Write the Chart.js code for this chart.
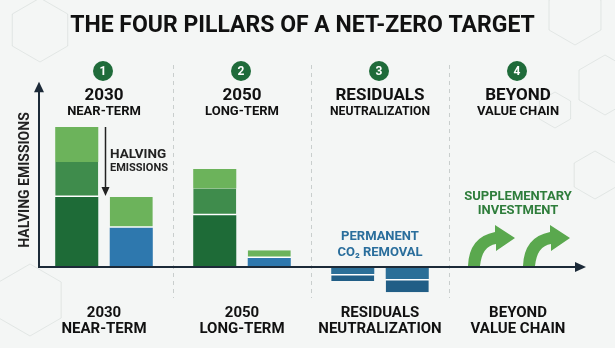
<!DOCTYPE html>
<html lang="en">
<head>
    <meta charset="UTF-8">
    <title>net-zero pillars</title>
    <style>
        html, body { margin: 0; padding: 0; background: #f4f6f5; }
        .chart-container { position: relative; width: 615px; height: 348px; }
    </style>
</head>
<body>
<script src="https://cdn.jsdelivr.net/npm/chart.js@4.4.0/dist/chart.umd.min.js"></script>

<div class="chart-container">
    <canvas id="pillars"></canvas>
</div>
<script>
    // tick labels along the bottom
    const categories = [['2030', 'NEAR-TERM'], ['2050', 'LONG-TERM'], ['RESIDUALS', 'NEUTRALIZATION'], ['BEYOND', 'VALUE CHAIN']]
    const headerTop = ['2030', '2050', 'RESIDUALS', 'BEYOND']
    const headerSub = ['NEAR-TERM', 'LONG-TERM', 'NEUTRALIZATION', 'VALUE CHAIN']
    const pillarNumbers = ['1', '2', '3', '4']

    // left bar of each pillar (stacked bottom -> top), residuals go below zero
    const leftBottom = [50, 37, -5, null]
    const leftMiddle = [25, 19, -5, null]
    const leftTop = [25, 14, null, null]
    // right bar of each pillar
    const rightBottom = [28, 6.5, -8.5, null]
    const rightTop = [22, 5.5, -9.5, null]

    const DARK = '#1e6b37', MID = '#3f8c4c', LIGHT = '#6cb35b', BLUE = '#2e78ae'
    const TEAL1 = '#2b6f98', TEAL2 = '#215e86'

    const sep = (c) => (c.raw < 0 ? {top: 1.5} : {bottom: 1.5})

    function hexagon(ctx, cx, cy, r) {
        ctx.beginPath()
        for (let k = 0; k < 6; k++) {
            const a = Math.PI / 3 * k - Math.PI / 2
            const px = cx + r * Math.cos(a), py = cy + r * Math.sin(a)
            if (k === 0) ctx.moveTo(px, py); else ctx.lineTo(px, py)
        }
        ctx.closePath()
        ctx.stroke()
    }

    function curvedArrow(ctx, bx, by) {
        ctx.beginPath()
        ctx.moveTo(bx, by)
        ctx.quadraticCurveTo(bx + 1, by - 29, bx + 27, by - 34)
        ctx.lineTo(bx + 27, by - 41)
        ctx.lineTo(bx + 47, by - 28)
        ctx.lineTo(bx + 28, by - 15)
        ctx.lineTo(bx + 28, by - 22)
        ctx.quadraticCurveTo(bx + 14, by - 20, bx + 12, by)
        ctx.closePath()
        ctx.fill()
    }

    const pillarDecor = {
        id: 'pillarDecor',
        beforeDraw(chart) {
            const {ctx, width, height, scales: {x}} = chart
            ctx.save()
            ctx.fillStyle = '#f4f6f5'
            ctx.fillRect(0, 0, width, height)
            ctx.strokeStyle = 'rgba(170, 185, 180, 0.25)'
            ctx.lineWidth = 1
            hexagon(ctx, 40, 30, 32)
            hexagon(ctx, 30, 300, 36)
            hexagon(ctx, 575, 15, 30)
            hexagon(ctx, 605, 85, 30)
            hexagon(ctx, 555, 110, 18)
            hexagon(ctx, 595, 175, 24)

            ctx.strokeStyle = '#c9cecd'
            ctx.setLineDash([4, 4])
            for (let i = 0; i < categories.length - 1; i++) {
                const sx = Math.round((x.getPixelForValue(i) + x.getPixelForValue(i + 1)) / 2) + 0.5
                ctx.beginPath()
                ctx.moveTo(sx, 65)
                ctx.lineTo(sx, 298)
                ctx.stroke()
            }
            ctx.restore()
        },
        afterDatasetsDraw(chart) {
            const {ctx, chartArea, scales: {x, y}} = chart
            const y0 = y.getPixelForValue(0)
            const ax = chartArea.left + 4
            ctx.save()

            // axes with arrow heads
            ctx.strokeStyle = ctx.fillStyle = '#1c2a38'
            ctx.lineWidth = 2
            ctx.beginPath()
            ctx.moveTo(ax, y0 + 1)
            ctx.lineTo(ax, chartArea.top + 8)
            ctx.moveTo(ax - 1, y0)
            ctx.lineTo(chartArea.right - 9, y0)
            ctx.stroke()
            ctx.beginPath()
            ctx.moveTo(ax, chartArea.top - 0.5)
            ctx.lineTo(ax - 5, chartArea.top + 10)
            ctx.lineTo(ax + 5, chartArea.top + 10)
            ctx.closePath()
            ctx.fill()
            ctx.beginPath()
            ctx.moveTo(chartArea.right - 1, y0)
            ctx.lineTo(chartArea.right - 12, y0 - 5)
            ctx.lineTo(chartArea.right - 12, y0 + 5)
            ctx.closePath()
            ctx.fill()

            // pillar headers
            ctx.textAlign = 'center'
            for (let i = 0; i < headerTop.length; i++) {
                const cx = x.getPixelForValue(i)
                ctx.fillStyle = '#1f6b3a'
                ctx.beginPath()
                ctx.arc(cx - 1, 71, 10, 0, Math.PI * 2)
                ctx.fill()
                ctx.fillStyle = '#fff'
                ctx.font = 'bold 12px Roboto'
                ctx.textBaseline = 'middle'
                ctx.fillText(pillarNumbers[i], cx - 1, 71.5)
                ctx.textBaseline = 'alphabetic'
                ctx.fillStyle = '#111'
                ctx.font = 'bold 17px Roboto'
                ctx.fillText(headerTop[i], cx, 100)
                ctx.font = 'bold 13px Roboto'
                ctx.fillText(headerSub[i], cx, 115, 100)
            }

            // y title
            ctx.save()
            ctx.translate(29, 180)
            ctx.rotate(-Math.PI / 2)
            ctx.fillStyle = '#222'
            ctx.font = 'bold 14px Roboto'
            ctx.fillText('HALVING EMISSIONS', 0, 0)
            ctx.restore()

            // halving arrow between the two 2030 bars
            const c0 = x.getPixelForValue(0)
            const hx = c0 + 1.5
            const yFrom = y.getPixelForValue(leftBottom[0] + leftMiddle[0] + leftTop[0])
            const yTo = y.getPixelForValue(rightBottom[0] + rightTop[0])
            ctx.strokeStyle = ctx.fillStyle = '#222'
            ctx.lineWidth = 1.5
            ctx.beginPath()
            ctx.moveTo(hx, yFrom)
            ctx.lineTo(hx, yTo - 8)
            ctx.stroke()
            ctx.beginPath()
            ctx.moveTo(hx, yTo - 1)
            ctx.lineTo(hx - 4, yTo - 10)
            ctx.lineTo(hx + 4, yTo - 10)
            ctx.closePath()
            ctx.fill()
            ctx.textAlign = 'left'
            ctx.font = 'bold 13.5px Roboto'
            ctx.fillText('HALVING', c0 + 6, 158)
            ctx.font = 'bold 11px Roboto'
            ctx.fillText('EMISSIONS', c0 + 6, 171)

            // residuals note
            const c2 = x.getPixelForValue(2)
            ctx.textAlign = 'center'
            ctx.fillStyle = '#2a6e9c'
            ctx.font = 'bold 13px Roboto'
            ctx.fillText('PERMANENT', c2, 240)
            ctx.fillText('CO\u2082 REMOVAL', c2, 255.5)

            // beyond value chain note + arrows
            const c3 = x.getPixelForValue(3)
            ctx.fillStyle = '#2e7d3b'
            ctx.fillText('SUPPLEMENTARY', c3, 200)
            ctx.fillText('INVESTMENT', c3, 214)
            ctx.fillStyle = '#5aa84e'
            curvedArrow(ctx, c3 - 50, y0 - 1)
            curvedArrow(ctx, c3 + 5, y0 - 1)

            ctx.restore()
        }
    }

    Chart.defaults.font.family = 'Roboto'

    const ctx = document.getElementById('pillars').getContext('2d')
    const pillarsChart = new Chart(ctx, {
        type: 'bar',
        data: {
            labels: categories,
            datasets: [
                {label: 'left bottom', data: leftBottom, stack: 'left', backgroundColor: [DARK, DARK, TEAL1, DARK], borderWidth: 0},
                {label: 'left middle', data: leftMiddle, stack: 'left', backgroundColor: [MID, MID, TEAL2, MID], borderColor: '#fff', borderWidth: sep, borderSkipped: false},
                {label: 'left top', data: leftTop, stack: 'left', backgroundColor: LIGHT, borderWidth: 0},
                {label: 'right bottom', data: rightBottom, stack: 'right', backgroundColor: [BLUE, BLUE, TEAL1, BLUE], borderWidth: 0},
                {label: 'right top', data: rightTop, stack: 'right', backgroundColor: [LIGHT, LIGHT, TEAL2, LIGHT], borderColor: '#fff', borderWidth: sep, borderSkipped: false}
            ]
        },
        options: {
            responsive: true,
            maintainAspectRatio: false,
            animation: false,
            layout: {padding: {left: 18, right: 28, top: 0, bottom: 0}},
            datasets: {bar: {categoryPercentage: 0.79, barPercentage: 0.79}},
            plugins: {
                legend: {display: false},
                tooltip: {enabled: false},
                title: {
                    display: true,
                    text: 'THE FOUR PILLARS OF A NET-ZERO TARGET',
                    color: '#111',
                    font: {size: 23, weight: 'bold', lineHeight: 1.2},
                    padding: {top: 12, bottom: 42.6}
                }
            },
            scales: {
                x: {
                    stacked: true,
                    grid: {display: false, drawTicks: false},
                    border: {display: false},
                    ticks: {color: '#111', font: {size: 15, weight: 'bold', lineHeight: 1.08}, padding: 4.6, maxRotation: 0, autoSkip: false},
                    afterFit: (s) => { s.height = 47.4 }
                },
                y: {
                    stacked: true,
                    min: -24,
                    max: 132,
                    grid: {display: false},
                    border: {display: false},
                    ticks: {display: false},
                    afterFit: (s) => { s.width = 17 }
                }
            }
        },
        plugins: [pillarDecor]
    })
</script>
</body>
</html>
